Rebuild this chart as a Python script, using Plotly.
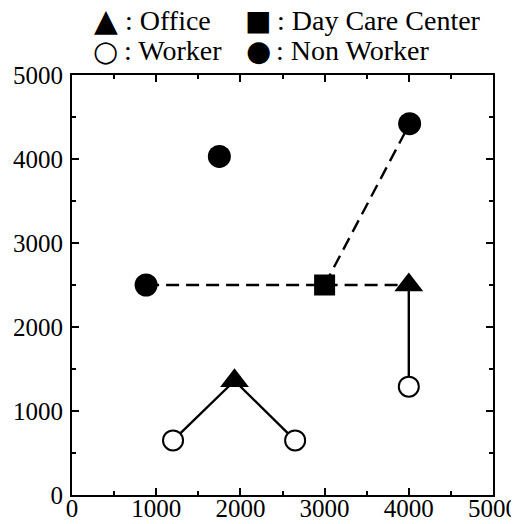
import plotly.graph_objects as go

# ---- data ----
office_x = [1930, 4000]
office_y = [1360, 2500]
daycare_x = [3000]
daycare_y = [2500]
worker_x = [1200, 2650, 4000]
worker_y = [650, 650, 1290]
nonworker_x = [880, 1750, 4010]
nonworker_y = [2500, 4030, 4420]
tick_vals = [0, 1000, 2000, 3000, 4000, 5000]
tick_text = ["0", "1000", "2000", "3000", "4000", "5000"]

# commute links (solid): worker -> office
solid_pairs = [(("w", 0), ("o", 0)), (("o", 0), ("w", 1)), (("o", 1), ("w", 2))]
# non-worker trips (dashed)
dash_pairs = [(("n", 0), ("d", 0)), (("d", 0), ("o", 1)), (("d", 0), ("n", 2))]

pts = {
    "o": (office_x, office_y),
    "d": (daycare_x, daycare_y),
    "w": (worker_x, worker_y),
    "n": (nonworker_x, nonworker_y),
}


def build(pairs):
    xs, ys = [], []
    for (a, i), (b, j) in pairs:
        xs += [pts[a][0][i], pts[b][0][j], None]
        ys += [pts[a][1][i], pts[b][1][j], None]
    return xs, ys


FONT = "Liberation Serif"
fig = go.Figure()

sx, sy = build(solid_pairs)
fig.add_trace(go.Scatter(x=sx, y=sy, mode="lines",
                         line=dict(color="black", width=2.4), hoverinfo="skip"))
dx, dy = build(dash_pairs)
fig.add_trace(go.Scatter(x=dx, y=dy, mode="lines",
                         line=dict(color="black", width=2.4, dash="13px,7px"), hoverinfo="skip"))

fig.add_trace(go.Scatter(x=worker_x, y=worker_y, mode="markers", name="Worker",
                         marker=dict(symbol="circle", size=20, color="white",
                                     line=dict(color="black", width=2))))
fig.add_trace(go.Scatter(x=nonworker_x, y=nonworker_y, mode="markers", name="Non Worker",
                         marker=dict(symbol="circle", size=23, color="black",
                                     line=dict(color="black", width=0))))
fig.add_trace(go.Scatter(x=daycare_x, y=daycare_y, mode="markers", name="Day Care Center",
                         marker=dict(symbol="square", size=21, color="black",
                                     line=dict(width=0))))
fig.add_trace(go.Scatter(x=office_x, y=office_y, mode="markers", name="Office",
                         marker=dict(symbol="triangle-up", size=25, color="black",
                                     line=dict(width=0))))

# ---- layout ----
# the page body has an 8px default margin, so the figure is 8px smaller
OFF = 8
W, H = 519 - OFF, 524 - OFF
L, T = 72 - OFF, 75 - OFF
R, B = W - (493 - OFF), H - (495 - OFF)
pw, ph = W - L - R, H - T - B


def px(x):
    return (x - OFF - L) / pw


def py(y):
    return (H - B - (y - OFF)) / ph


axis_common = dict(
    range=[0, 5000], tickvals=tick_vals, ticktext=tick_text, automargin=False,
    showgrid=False, zeroline=False, showline=True, linecolor="black", linewidth=2,
    mirror="allticks", ticks="inside", ticklen=7, tickwidth=1.5, tickcolor="black",
    minor=dict(dtick=500, ticks="inside", ticklen=4, tickwidth=1.5, tickcolor="black"),
    tickfont=dict(family=FONT, size=25, color="black"), fixedrange=True,
)

fig.update_layout(
    width=W, height=H, margin=dict(l=L, r=R, t=T, b=B),
    paper_bgcolor="white", plot_bgcolor="white", showlegend=False,
    xaxis=dict(axis_common, ticklabelstandoff=-10),
    yaxis=dict(axis_common, ticklabelstandoff=2),
)

ann = []
# legend keys and labels (positions in page pixels)
legend_items = [
    ("▲", 106, 20, 31, ": Office", 124),
    ("■", 258, 20, 28, ": Day Care Center", 276),
    ("○", 105, 51, 29, ": Worker", 123),
    ("●", 258, 51, 29, ": Non Worker", 275),
]
for sym, sxp, syp, ssize, label, lx in legend_items:
    ann.append(dict(x=px(sxp), y=py(syp), xref="paper", yref="paper", text=sym,
                    showarrow=False, xanchor="center", yanchor="middle", borderpad=0,
                    font=dict(family="DejaVu Sans", size=ssize, color="black")))
    ann.append(dict(x=px(lx), y=py(syp), xref="paper", yref="paper", text=label,
                    showarrow=False, xanchor="left", yanchor="middle", borderpad=0,
                    font=dict(family=FONT, size=28, color="black")))
fig.update_layout(annotations=ann)

fig.write_html("out.html")
